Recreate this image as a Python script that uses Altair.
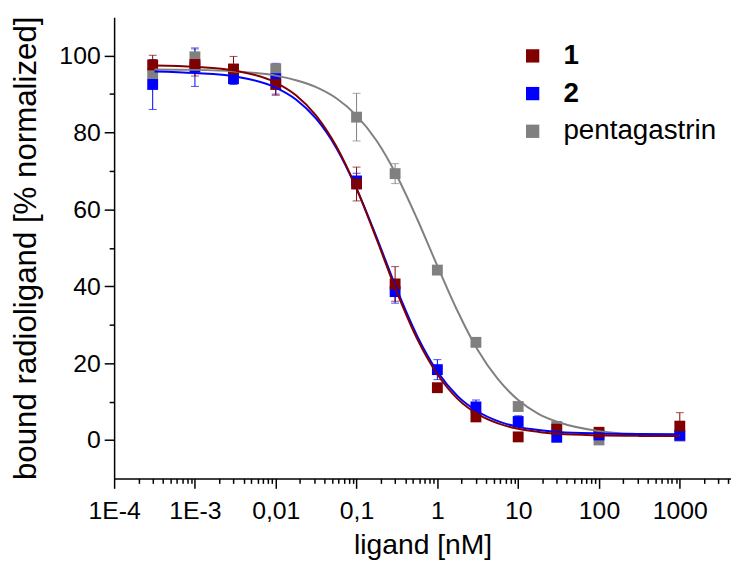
import altair as alt
import pandas as pd

# ---- data ----
conc = [3e-4, 1e-3, 3e-3, 0.01, 0.1, 0.3, 1, 3, 10, 30, 100, 1000]

s1_mean = [97.6, 97.7, 96.5, 92.5, 66.6, 40.6, 13.6, 6.0, 0.8, 2.8, 2.0, 3.6]
s1_err = [2.5, 3.0, 3.3, 2.8, 4.4, 4.5, 1.0, 1.0, 0.6, 1.9, 0.5, 3.5]

s2_mean = [92.5, 97.0, 94.0, 94.0, 67.4, 38.6, 18.3, 8.6, 4.8, 0.7, 1.3, 1.2]
s2_err = [6.5, 5.0, 1.5, 4.0, 2.0, 3.0, 2.6, 1.8, 1.5, 1.0, 0.6, 1.0]

pg_mean = [95.3, 99.7, 96.5, 96.6, 84.0, 69.3, 44.2, 25.4, 8.7, 3.5, 0.0, 1.0]
pg_err = [1.5, 2.0, 1.0, 0.8, 6.2, 2.6, 0.8, 0.8, 0.8, 0.8, 0.5, 0.8]

# fitted curves at half/quarter decades
curve_x = [3.16e-4, 1e-3, 3.16e-3, 0.01, 0.0178, 0.0316, 0.0562, 0.1, 0.178,
           0.316, 0.562, 1, 1.78, 3.16, 5.62, 10, 17.8, 31.6, 100, 316, 1000]
curve_1 = [97.45, 97.1, 96.1, 93.0, 89.7, 84.4, 76.4, 65.4, 52.1, 38.4, 26.3,
           17.1, 10.7, 6.7, 4.3, 2.9, 2.1, 1.6, 1.2, 1.06, 1.02]
curve_2 = [95.9, 95.5, 94.6, 91.7, 88.6, 83.6, 76.0, 65.4, 52.6, 39.1, 27.1,
           17.8, 11.4, 7.4, 4.9, 3.4, 2.6, 2.1, 1.7, 1.56, 1.52]
curve_pg = [96.4, 96.3, 95.9, 94.8, 93.6, 91.8, 88.9, 84.4, 77.8, 68.7, 57.5,
            45.3, 33.5, 23.4, 15.8, 10.4, 6.8, 4.6, 2.3, 1.5, 1.2]

series_names = ["1", "2", "pentagastrin"]
series_colors = ["#800000", "#0000FF", "#808080"]

x_decades = [1e-4, 1e-3, 0.01, 0.1, 1, 10, 100, 1000]
x_labels = ["1E-4", "1E-3", "0,01", "0,1", "1", "10", "100", "1000"]
x_max = 4300
y_ticks = [0, 10, 20, 30, 40, 50, 60, 70, 80, 90, 100]

FONT = "Liberation Sans"

# ---- tables (drawing order: pentagastrin, 2, 1) ----
pts = []
for name, means, errs in [("pentagastrin", pg_mean, pg_err), ("2", s2_mean, s2_err), ("1", s1_mean, s1_err)]:
    for c, m, e in zip(conc, means, errs):
        pts.append({"series": name, "conc": c, "val": m, "lo": m - e, "hi": m + e})
pts = pd.DataFrame(pts)

crv = []
for name, ys in [("pentagastrin", curve_pg), ("2", curve_2), ("1", curve_1)]:
    for i, (c, v) in enumerate(zip(curve_x, ys)):
        crv.append({"series": name, "conc": c, "val": v, "i": i})
crv = pd.DataFrame(crv)

minor = [m * d for d in x_decades for m in range(2, 10) if m * d <= x_max]
x_tick_values = x_decades + minor

label_expr = "''"
for v, l in reversed(list(zip(x_decades, x_labels))):
    label_expr = f"abs(datum.value/{v} - 1) < 1e-6 ? '{l}' : ({label_expr})"
is_decade = "abs(log(datum.value)/LN10 - round(log(datum.value)/LN10)) < 0.001"

xscale = alt.Scale(type="log", domain=[1e-4, x_max], nice=False)
yscale = alt.Scale(domain=[-10, 110], nice=False, zero=False)
cscale = alt.Scale(domain=series_names, range=series_colors)

x_axis = alt.Axis(
    values=x_tick_values, labelExpr=label_expr, labelOverlap=False, labelFlush=False,
    tickSize={"condition": {"test": is_decade, "value": 10}, "value": 5},
    title="ligand [nM]", grid=False,
)
y_axis = alt.Axis(
    values=y_ticks, labelExpr="datum.value % 20 == 0 ? datum.label : ''",
    tickSize={"condition": {"test": "datum.value % 20 == 0", "value": 10}, "value": 5},
    title="bound radioligand [% normalized]", grid=False,
)

layers = []
# error bars and caps, per series with constant colour
for name, col in [("pentagastrin", "#808080"), ("2", "#0000FF"), ("1", "#800000")]:
    b = alt.Chart(pts).transform_filter(alt.datum.series == name)
    layers.append(b.mark_rule(strokeWidth=1, color=col).encode(
        x=alt.X("conc:Q", scale=xscale, axis=x_axis),
        y=alt.Y("lo:Q", scale=yscale, axis=y_axis),
        y2="hi:Q",
    ))
    for f in ["lo", "hi"]:
        layers.append(b.mark_tick(orient="horizontal", size=8, thickness=1, color=col).encode(
            x=alt.X("conc:Q", scale=xscale),
            y=alt.Y(f"{f}:Q", scale=yscale),
        ))

# squares, with the only legend
layers.append(alt.Chart(pts).mark_square(size=120, opacity=1).encode(
    x=alt.X("conc:Q", scale=xscale),
    y=alt.Y("val:Q", scale=yscale),
    color=alt.Color(
        "series:N", scale=cscale, sort=series_names,
        legend=alt.Legend(
            orient="none", legendX=408, legendY=25, title=None,
            symbolType="square", symbolSize=180, symbolStrokeWidth=0,
            labelFont=FONT, labelFontSize=28, labelColor="black",
            labelFontWeight={"expr": "datum.label == 'pentagastrin' ? 'normal' : 'bold'"},
            rowPadding=10, labelOffset=17, padding=0,
        ),
    ),
))

# fitted curves on top
for name, col in [("pentagastrin", "#808080"), ("2", "#0000FF"), ("1", "#800000")]:
    layers.append(alt.Chart(crv).transform_filter(alt.datum.series == name)
                  .mark_line(strokeWidth=2, interpolate="monotone", color=col).encode(
        x=alt.X("conc:Q", scale=xscale),
        y=alt.Y("val:Q", scale=yscale),
        order="i:Q",
    ))

chart = (
    alt.layer(*layers)
    .properties(
        width=622, height=465, autosize="none",
        padding={"left": 107, "top": 7, "right": 0, "bottom": 82},
    )
    .configure_view(stroke=None)
    .configure_axis(
        domainColor="black", domainWidth=1.5, tickColor="black", tickWidth=1.5,
        labelFont=FONT, labelFontSize=25, labelColor="black",
        titleFont=FONT, titleColor="black", titleFontWeight="normal",
    )
    .configure_axisX(labelPadding=10, titlePadding=8, titleFontSize=28.5)
    .configure_axisY(labelPadding=4, titlePadding=17, titleFontSize=31.5)
)

chart.save("out.html", embed_options={"renderer": "svg", "actions": False})
